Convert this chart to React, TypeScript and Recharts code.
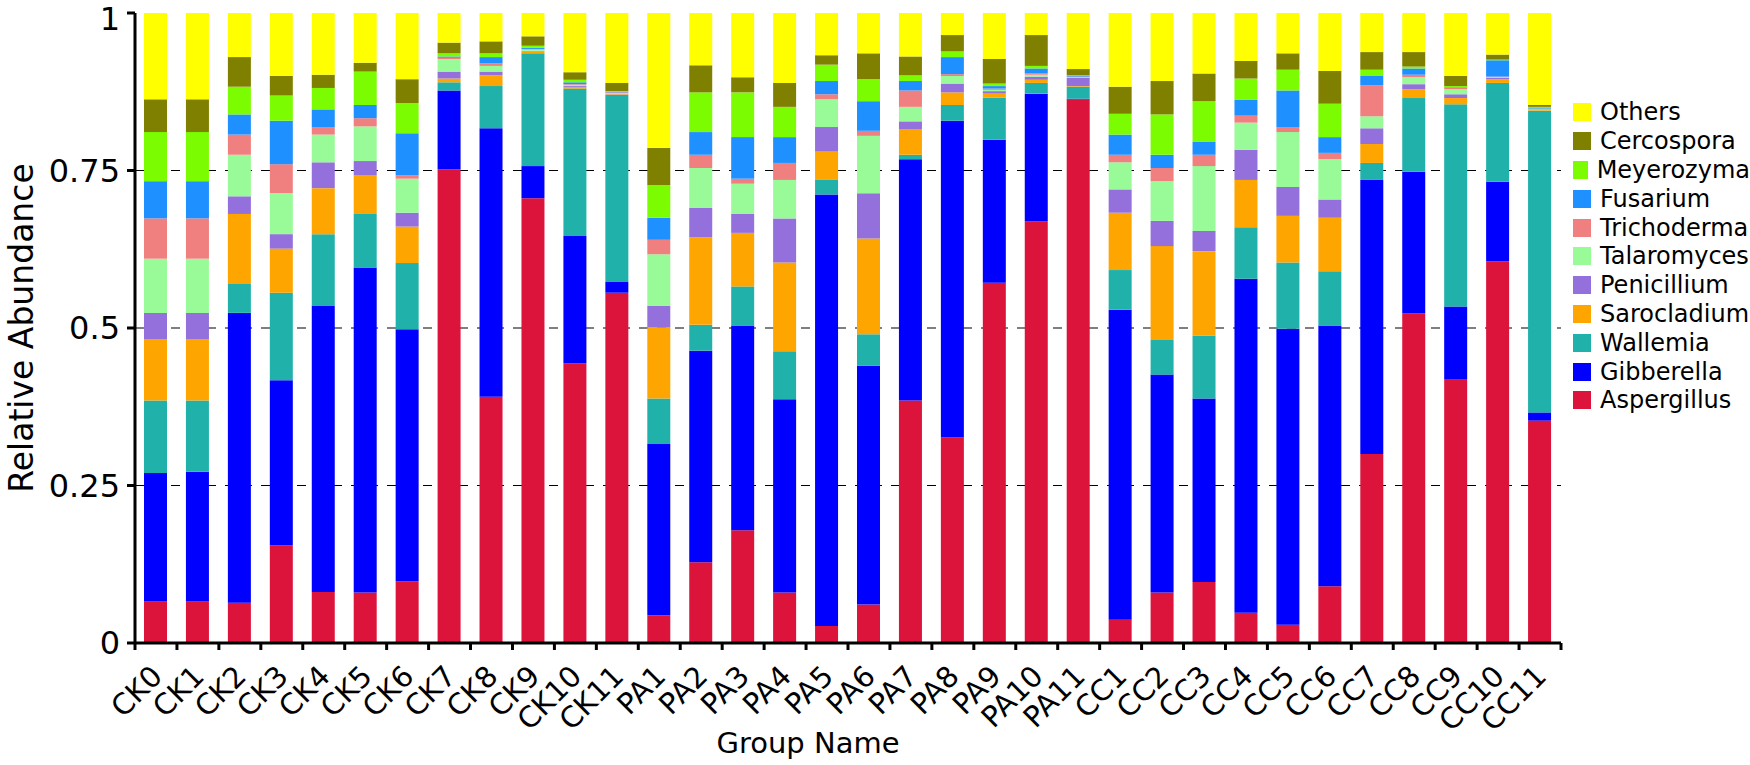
import { BarChart, Bar, XAxis, YAxis, CartesianGrid, Legend } from "recharts";

const groups = [
  "CK0", "CK1", "CK2", "CK3", "CK4", "CK5", "CK6", "CK7", "CK8", "CK9", "CK10", "CK11",
  "PA1", "PA2", "PA3", "PA4", "PA5", "PA6", "PA7", "PA8", "PA9", "PA10", "PA11",
  "CC1", "CC2", "CC3", "CC4", "CC5", "CC6", "CC7", "CC8", "CC9", "CC10", "CC11",
];

const aspergillus = [0.066, 0.066, 0.064, 0.155, 0.081, 0.08, 0.098, 0.752, 0.391, 0.706, 0.444, 0.556, 0.044, 0.128, 0.179, 0.08, 0.027, 0.061, 0.385, 0.326, 0.572, 0.669, 0.863, 0.037, 0.08, 0.097, 0.048, 0.029, 0.09, 0.3, 0.523, 0.419, 0.606, 0.353];
const gibberella = [0.204, 0.206, 0.46, 0.262, 0.454, 0.516, 0.4, 0.125, 0.426, 0.051, 0.202, 0.017, 0.272, 0.336, 0.325, 0.307, 0.685, 0.379, 0.383, 0.503, 0.227, 0.203, 0.001, 0.492, 0.346, 0.291, 0.53, 0.47, 0.414, 0.435, 0.225, 0.115, 0.126, 0.013];
const wallemia = [0.115, 0.113, 0.046, 0.139, 0.114, 0.085, 0.105, 0.013, 0.067, 0.179, 0.234, 0.297, 0.072, 0.041, 0.062, 0.076, 0.023, 0.05, 0.007, 0.025, 0.067, 0.017, 0.019, 0.063, 0.055, 0.1, 0.082, 0.105, 0.086, 0.027, 0.117, 0.321, 0.157, 0.479];
const sarocladium = [0.097, 0.097, 0.111, 0.07, 0.073, 0.061, 0.058, 0.006, 0.017, 0.003, 0.002, 0.001, 0.113, 0.139, 0.085, 0.141, 0.045, 0.152, 0.04, 0.02, 0.006, 0.005, 0.001, 0.091, 0.149, 0.134, 0.075, 0.074, 0.085, 0.03, 0.014, 0.01, 0.006, 0.001];
const penicillium = [0.042, 0.042, 0.028, 0.023, 0.041, 0.023, 0.022, 0.011, 0.006, 0.001, 0.002, 0.001, 0.034, 0.047, 0.03, 0.07, 0.039, 0.072, 0.013, 0.014, 0.004, 0.005, 0.013, 0.037, 0.04, 0.032, 0.048, 0.046, 0.029, 0.025, 0.008, 0.006, 0.002, 0.001];
const talaromyces = [0.086, 0.086, 0.066, 0.065, 0.044, 0.055, 0.054, 0.02, 0.009, 0.002, 0.002, 0.001, 0.082, 0.063, 0.048, 0.061, 0.044, 0.091, 0.023, 0.012, 0.002, 0.003, 0.001, 0.043, 0.063, 0.103, 0.043, 0.087, 0.064, 0.019, 0.011, 0.008, 0.001, 0.001];
const trichoderma = [0.064, 0.064, 0.032, 0.046, 0.012, 0.013, 0.005, 0.002, 0.004, 0.001, 0.001, 0.001, 0.023, 0.021, 0.008, 0.027, 0.008, 0.008, 0.026, 0.003, 0.002, 0.002, 0.001, 0.012, 0.021, 0.018, 0.011, 0.008, 0.01, 0.049, 0.004, 0.002, 0.001, 0];
const fusarium = [0.059, 0.059, 0.032, 0.069, 0.028, 0.021, 0.067, 0.002, 0.01, 0.002, 0.003, 0.001, 0.035, 0.036, 0.066, 0.041, 0.021, 0.047, 0.015, 0.027, 0.004, 0.008, 0.001, 0.032, 0.021, 0.021, 0.025, 0.058, 0.025, 0.015, 0.01, 0.001, 0.026, 0.001];
const meyerozyma = [0.078, 0.078, 0.044, 0.04, 0.034, 0.053, 0.048, 0.005, 0.006, 0.003, 0.004, 0.001, 0.052, 0.063, 0.071, 0.048, 0.026, 0.035, 0.009, 0.009, 0.004, 0.004, 0.001, 0.033, 0.064, 0.064, 0.034, 0.033, 0.053, 0.01, 0.003, 0.002, 0.001, 0.002];
const cercospora = [0.052, 0.052, 0.047, 0.031, 0.021, 0.014, 0.038, 0.017, 0.019, 0.015, 0.012, 0.013, 0.059, 0.043, 0.024, 0.038, 0.015, 0.041, 0.03, 0.026, 0.039, 0.049, 0.01, 0.043, 0.053, 0.044, 0.028, 0.026, 0.052, 0.028, 0.023, 0.016, 0.008, 0.003];
const others = [0.137, 0.137, 0.07, 0.1, 0.098, 0.079, 0.105, 0.047, 0.045, 0.037, 0.094, 0.112, 0.214, 0.083, 0.102, 0.111, 0.067, 0.064, 0.069, 0.035, 0.073, 0.035, 0.09, 0.117, 0.108, 0.096, 0.076, 0.064, 0.092, 0.062, 0.062, 0.1, 0.066, 0.146];

const yTicks = [0, 0.25, 0.5, 0.75, 1];
const gridValues = [0.25, 0.5, 0.75];

// bottom to top
const series = [
  { key: "Aspergillus", values: aspergillus, color: "#DC143C" },
  { key: "Gibberella", values: gibberella, color: "#0000FF" },
  { key: "Wallemia", values: wallemia, color: "#20B2AA" },
  { key: "Sarocladium", values: sarocladium, color: "#FFA500" },
  { key: "Penicillium", values: penicillium, color: "#9370DB" },
  { key: "Talaromyces", values: talaromyces, color: "#98FB98" },
  { key: "Trichoderma", values: trichoderma, color: "#F08080" },
  { key: "Fusarium", values: fusarium, color: "#1E90FF" },
  { key: "Meyerozyma", values: meyerozyma, color: "#7CFC00" },
  { key: "Cercospora", values: cercospora, color: "#808000" },
  { key: "Others", values: others, color: "#FFFF00" },
];

const data = groups.map((name, i) => {
  const row: Record<string, string | number> = { name };
  series.forEach((s) => (row[s.key] = s.values[i]));
  return row;
});

const FONT = "'DejaVu Sans', sans-serif";

function GroupTick(props: any) {
  const { x, y, payload, index } = props;
  const half = payload.offset || 21;
  return (
    <g>
      <line x1={x - half} y1={y - 7} x2={x - half} y2={y} stroke="#000" strokeWidth={3} />
      {index === groups.length - 1 && (
        <line x1={x + half} y1={y - 7} x2={x + half} y2={y} stroke="#000" strokeWidth={3} />
      )}
      <text
        x={0}
        y={0}
        transform={`translate(${x + 8},${y + 28}) rotate(-45)`}
        textAnchor="end"
        fontFamily={FONT}
        fontSize={29}
        fill="#000"
      >
        {payload.value}
      </text>
    </g>
  );
}

function LegendBox() {
  const items = [...series].reverse();
  return (
    <div style={{ fontFamily: FONT, fontSize: 24, color: "#000" }}>
      {items.map((s) => (
        <div key={s.key} style={{ display: "flex", alignItems: "center", height: 28.8 }}>
          <span style={{ width: 18, height: 18, background: s.color, display: "inline-block", marginRight: 9 }} />
          <span>{s.key}</span>
        </div>
      ))}
    </div>
  );
}

export default function App() {
  return (
    <div style={{ position: "absolute", left: 0, top: 0, width: 1750, height: 765, background: "#fff" }}>
      <BarChart
        width={1750}
        height={765}
        data={data}
        margin={{ top: 13, right: 189, bottom: 0, left: 0 }}
        barSize={23}
      >
        <CartesianGrid
          vertical={false}
          horizontalValues={gridValues}
          stroke="#000"
          strokeDasharray="9 9"
          strokeWidth={1.2}
        />
        <XAxis
          dataKey="name"
          interval={0}
          height={122}
          tickSize={7}
          tickMargin={0}
          tickLine={false}
          tick={<GroupTick />}
          axisLine={{ stroke: "#000", strokeWidth: 3 }}
          label={{
            value: "Group Name",
            position: "insideBottom",
            offset: 12,
            dx: -40,
            fontFamily: FONT,
            fontSize: 29,
            fill: "#000",
          }}
        />
        <YAxis
          width={135}
          domain={[0, 1]}
          ticks={yTicks}
          allowDataOverflow
          tickSize={8}
          tickMargin={7}
          tickLine={{ stroke: "#000", strokeWidth: 3 }}
          axisLine={{ stroke: "#000", strokeWidth: 3 }}
          tick={{ fontFamily: FONT, fontSize: 32, fill: "#000" }}
          label={{
            value: "Relative Abundance",
            angle: -90,
            position: "insideLeft",
            offset: 21,
            fontFamily: FONT,
            fontSize: 33,
            fill: "#000",
            style: { textAnchor: "middle" },
          }}
        />
        <Legend
          layout="vertical"
          align="center"
          verticalAlign="middle"
          content={<LegendBox />}
          wrapperStyle={{ position: "absolute", left: 1573, top: 98, width: 177 }}
        />
        {series.map((s) => (
          <Bar key={s.key} dataKey={s.key} stackId="a" fill={s.color} isAnimationActive={false} />
        ))}
      </BarChart>
    </div>
  );
}
